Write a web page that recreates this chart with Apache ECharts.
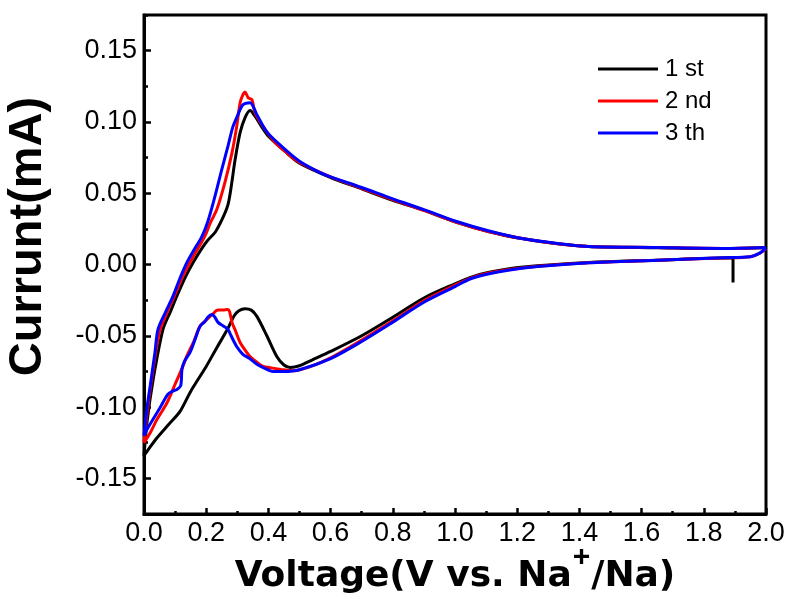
<!DOCTYPE html>
<html>
<head>
<meta charset="utf-8">
<script src="https://cdn.jsdelivr.net/npm/echarts@6/dist/echarts.min.js"></script>
<style>
  html, body { margin: 0; padding: 0; background: #fff; }
  #chart { width: 790px; height: 606px; }
</style>
</head>
<body>
<div id="chart"></div>
<script>
// CV data, [voltage (V), current (mA)] in scan order
const cycle1Cathodic = [
  [1.894, -0.0126], [1.894, 0.0045], [1.86, 0.0045], [1.65, 0.003], [1.43, 0.0014],
  [1.22, -0.0018], [1.11, -0.0055], [1.05, -0.009], [1.0, -0.0135], [0.9, -0.0235], [0.8, -0.037],
  [0.7, -0.050], [0.6, -0.061], [0.54, -0.067], [0.5, -0.071], [0.47, -0.0722], [0.45, -0.0705],
  [0.427, -0.0645], [0.395, -0.050], [0.363, -0.0364], [0.345, -0.032], [0.325, -0.031],
  [0.305, -0.0325], [0.29, -0.036], [0.267, -0.046], [0.235, -0.058], [0.2, -0.0715],
  [0.15, -0.089], [0.116, -0.103], [0.08, -0.112], [0.04, -0.122], [0.01, -0.131], [0.0, -0.134]
]
const cycle1Anodic = [
  [0.0, -0.134], [0.01, -0.11], [0.03, -0.08], [0.061, -0.0455], [0.085, -0.033],
  [0.11, -0.02], [0.135, -0.008], [0.158, 0.0014], [0.185, 0.011], [0.205, 0.017],
  [0.23, 0.023], [0.254, 0.033], [0.27, 0.042], [0.28, 0.054], [0.293, 0.0736],
  [0.309, 0.0925], [0.325, 0.103], [0.341, 0.108], [0.357, 0.104], [0.38, 0.096],
  [0.4, 0.090], [0.45, 0.080], [0.5, 0.071], [0.6, 0.061], [0.7, 0.053], [0.8, 0.045],
  [0.9, 0.038], [1.0, 0.030], [1.11, 0.023], [1.22, 0.018], [1.33, 0.0145], [1.43, 0.0126],
  [1.65, 0.0118], [1.86, 0.0112], [2.0, 0.012]
]
const cycle2Cathodic = [
  [2.0, 0.011], [1.98, 0.008], [1.95, 0.0055], [1.86, 0.0046], [1.65, 0.003], [1.43, 0.0013],
  [1.22, -0.0022], [1.11, -0.006], [1.05, -0.0095], [1.0, -0.0145], [0.9, -0.0255], [0.8, -0.0395], [0.7, -0.053],
  [0.6, -0.0655], [0.53, -0.072], [0.48, -0.0745], [0.447, -0.0738], [0.41, -0.0725],
  [0.383, -0.0715], [0.36, -0.068], [0.341, -0.0645], [0.325, -0.060], [0.309, -0.0547],
  [0.295, -0.047], [0.283, -0.0406], [0.275, -0.033], [0.268, -0.0315], [0.255, -0.032],
  [0.238, -0.032], [0.22, -0.035], [0.2, -0.039], [0.18, -0.0434], [0.16, -0.054],
  [0.138, -0.064], [0.125, -0.0715], [0.1, -0.084], [0.074, -0.097], [0.042, -0.1086],
  [0.02, -0.118], [0.0, -0.125]
]
const cycle2Anodic = [
  [0.0, -0.125], [0.01, -0.104], [0.025, -0.08], [0.05, -0.047], [0.075, -0.033],
  [0.1, -0.021], [0.125, -0.008], [0.148, 0.0015], [0.17, 0.01], [0.195, 0.0196],
  [0.215, 0.03], [0.234, 0.0385], [0.26, 0.0575], [0.283, 0.0785], [0.298, 0.0967],
  [0.309, 0.1135], [0.318, 0.119], [0.325, 0.121], [0.335, 0.117], [0.347, 0.1156],
  [0.357, 0.1065], [0.383, 0.0967], [0.42, 0.086], [0.45, 0.080], [0.5, 0.0715],
  [0.6, 0.0615], [0.7, 0.0535], [0.8, 0.0455], [0.9, 0.038], [1.0, 0.030], [1.11, 0.023],
  [1.22, 0.018], [1.33, 0.0145], [1.43, 0.0126], [1.65, 0.0119], [1.86, 0.0113], [2.0, 0.012]
]
const cycle3Cathodic = [
  [2.0, 0.0115], [1.98, 0.008], [1.95, 0.0055], [1.86, 0.0047], [1.65, 0.003], [1.43, 0.0012],
  [1.22, -0.0025], [1.11, -0.0065], [1.05, -0.010], [1.0, -0.0155], [0.9, -0.0265], [0.8, -0.0405], [0.7, -0.054],
  [0.6, -0.066], [0.5, -0.0738], [0.45, -0.075], [0.415, -0.075], [0.385, -0.0725],
  [0.363, -0.070], [0.34, -0.066], [0.318, -0.063], [0.298, -0.0575], [0.28, -0.050],
  [0.27, -0.0455], [0.254, -0.043], [0.238, -0.0406], [0.228, -0.037], [0.219, -0.035],
  [0.205, -0.037], [0.196, -0.040], [0.18, -0.0434], [0.165, -0.052], [0.148, -0.0617],
  [0.13, -0.068], [0.122, -0.0736], [0.118, -0.085], [0.106, -0.0876], [0.09, -0.089],
  [0.077, -0.091], [0.05, -0.101], [0.029, -0.1086], [0.01, -0.1156], [0.0, -0.12]
]
const cycle3Anodic = [
  [0.0, -0.12], [0.01, -0.1], [0.02, -0.085], [0.035, -0.062], [0.045, -0.0455],
  [0.07, -0.033], [0.093, -0.0224], [0.115, -0.010], [0.138, 0.0014], [0.16, 0.010],
  [0.186, 0.0196], [0.205, 0.03], [0.228, 0.0477], [0.25, 0.0666], [0.27, 0.083],
  [0.285, 0.096], [0.298, 0.103], [0.318, 0.112], [0.341, 0.1135], [0.363, 0.105],
  [0.395, 0.093], [0.447, 0.082], [0.5, 0.0725], [0.566, 0.0645], [0.6, 0.0615],
  [0.7, 0.054], [0.8, 0.046], [0.9, 0.0385], [1.0, 0.0305], [1.11, 0.0235], [1.22, 0.018],
  [1.33, 0.0147], [1.43, 0.0126], [1.65, 0.0119], [1.86, 0.0113], [2.0, 0.012]
]

const seriesNames = ['1 st', '2 nd', '3 th']
const seriesColors = ['#000000', '#ff0000', '#0000ff']
const yTicks = [-0.15, -0.10, -0.05, 0.00, 0.05, 0.10, 0.15]
const yMinorTicks = [-0.175, -0.125, -0.075, -0.025, 0.025, 0.075, 0.125, 0.175]

const cycles = [
  cycle1Cathodic.concat(cycle1Anodic),
  cycle2Cathodic.concat(cycle2Anodic),
  cycle3Cathodic.concat(cycle3Anodic),
]

const chart = echarts.init(document.getElementById('chart'))
const font = "'Liberation Sans', Arial, sans-serif"

const option = {
  animation: false,
  backgroundColor: '#ffffff',
  grid: {
    left: 144,
    right: 24,
    top: 15,
    bottom: 92,
    outerBoundsMode: 'none',
    show: true,
    borderColor: '#000',
    borderWidth: 3,
  },
  legend: {
    data: seriesNames,
    orient: 'vertical',
    left: 598,
    top: 57,
    padding: 0,
    icon: 'rect',
    itemWidth: 60,
    itemHeight: 3,
    itemGap: 8,
    textStyle: { fontFamily: font, fontSize: 24, color: '#000', padding: [0, 0, 0, 2] },
  },
  xAxis: {
    type: 'value',
    min: 0,
    max: 2,
    interval: 0.2,
    name: '{t|Voltage(V vs. Na}{s|+}{t|/Na)}',
    nameLocation: 'middle',
    nameGap: 41,
    nameMoveOverlap: false,
    nameTextStyle: {
      rich: {
        t: { fontFamily: 'DejaVu Sans', fontWeight: 'bold', fontSize: 36, lineHeight: 40, color: '#000', verticalAlign: 'bottom' },
        s: { fontFamily: font, fontWeight: 'bold', fontSize: 30, lineHeight: 28, color: '#000', padding: [0, 1, 22, 1], verticalAlign: 'bottom' },
      },
    },
    axisLine: { onZero: false, lineStyle: { color: '#000', width: 3 } },
    axisTick: { inside: true, length: 6, lineStyle: { color: '#000', width: 2.5 } },
    minorTick: { show: true, splitNumber: 2, length: 3, lineStyle: { color: '#000', width: 2.5 } },
    splitLine: { show: false },
    axisLabel: {
      fontFamily: font,
      fontSize: 27,
      color: '#000',
      margin: 6,
      formatter: (v) => v.toFixed(1),
    },
  },
  yAxis: [
    {
      type: 'value',
      min: -0.175,
      max: 0.175,
      name: 'Currunt(mA)',
      nameLocation: 'middle',
      nameGap: 92,
      nameMoveOverlap: false,
      nameTextStyle: {
        fontFamily: font,
        fontWeight: 'bold',
        fontSize: 47,
        color: '#000',
        padding: [0, 0, 0, 56],
      },
      axisLine: { onZero: false, lineStyle: { color: '#000', width: 3 } },
      axisTick: { inside: true, length: 7, customValues: yTicks, lineStyle: { color: '#000', width: 2.5 } },
      splitLine: { show: false },
      axisLabel: {
        customValues: yTicks,
        fontFamily: font,
        fontSize: 27,
        color: '#000',
        margin: 7,
        formatter: (v) => v.toFixed(2),
      },
    },
    {
      type: 'value',
      min: -0.175,
      max: 0.175,
      position: 'left',
      axisLine: { show: false, onZero: false },
      axisTick: { inside: true, length: 4, customValues: yMinorTicks, lineStyle: { color: '#000', width: 2.5 } },
      axisLabel: { show: false },
      splitLine: { show: false },
    },
  ],
  series: cycles.map((data, i) => ({
    name: seriesNames[i],
    type: 'line',
    data: data,
    yAxisIndex: 0,
    symbol: 'none',
    smooth: 0.3,
    lineStyle: { color: seriesColors[i], width: 3 },
    itemStyle: { color: seriesColors[i] },
    z: 2 + i,
  })),
}

chart.setOption(option)
</script>
</body>
</html>
